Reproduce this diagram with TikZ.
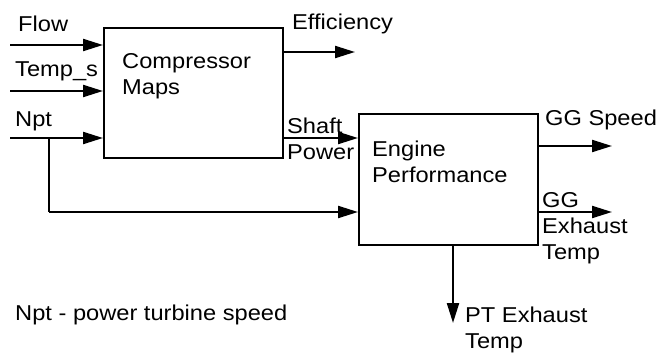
\documentclass[tikz,border=0pt]{standalone}
\usepackage{fontspec}
\setmainfont{Liberation Sans}[FakeStretch=1.1]
\usetikzlibrary{arrows.meta}
\begin{document}
\begin{tikzpicture}[x=1pt,y=-1pt,
  lbl/.style={anchor=base west,inner sep=0pt,font=\fontsize{21.5}{26}\selectfont,align=left},
  blk/.style={draw,line width=2.2pt,inner sep=0pt},
  conn/.style={line width=2.2pt,-{Triangle[length=20pt,width=12pt]}},
  seg/.style={line width=2.2pt}]
\useasboundingbox (0,0) rectangle (658,353);
% boxes
\node[blk,minimum width=179pt,minimum height=130pt,anchor=north west] (cm) at (103,27) {};
\node[blk,minimum width=179pt,minimum height=131pt,anchor=north west] (ep) at (358,113) {};
\node[lbl] (cmt) at (122,94) {Compressor\\Maps};
\node[lbl] (ept) at (372,182) {Engine\\Performance};
% labels
\node[lbl] (flow) at (18,32) {Flow};
\node[lbl] (temps) at (15,77) {Temp\_s};
\node[lbl] (npt) at (15,126) {Npt};
\node[lbl] (eff) at (292,30) {Efficiency};
\node[lbl] (shaft) at (287,159) {Shaft\\Power};
\node[lbl] (ggs) at (545,125) {GG Speed};
\node[lbl] (gge) at (542,259) {GG\\Exhaust\\Temp};
\node[lbl] (pte) at (465,348) {PT Exhaust\\Temp};
\node[lbl] (note) at (15,320) {Npt - power turbine speed};
% coordinates
\coordinate (f0) at (10,45);
\coordinate (t0) at (10,91);
\coordinate (n0) at (10,138);
\coordinate (nj) at (49,138);
\coordinate (nb) at (49,212);
\coordinate (e1) at (355,52);
\coordinate (g1) at (612,146);
\coordinate (x1) at (612,212);
\coordinate (p1) at (453,323);
% connectors
\draw[conn] (f0) -- (f0 -| cm.west);
\draw[conn] (t0) -- (t0 -| cm.west);
\draw[conn] (n0) -- (n0 -| cm.west);
\draw[seg] (nj) -- (nb);
\draw[conn] (nb) -- (nb -| ep.west);
\draw[conn] (e1 -| cm.east) -- (e1);
\draw[conn] (cm.east |- 0,138) -- (ep.west |- 0,138);
\draw[conn] (g1 -| ep.east) -- (g1);
\draw[conn] (x1 -| ep.east) -- (x1);
\draw[conn] (p1 |- ep.south) -- (p1);
\end{tikzpicture}
\end{document}
